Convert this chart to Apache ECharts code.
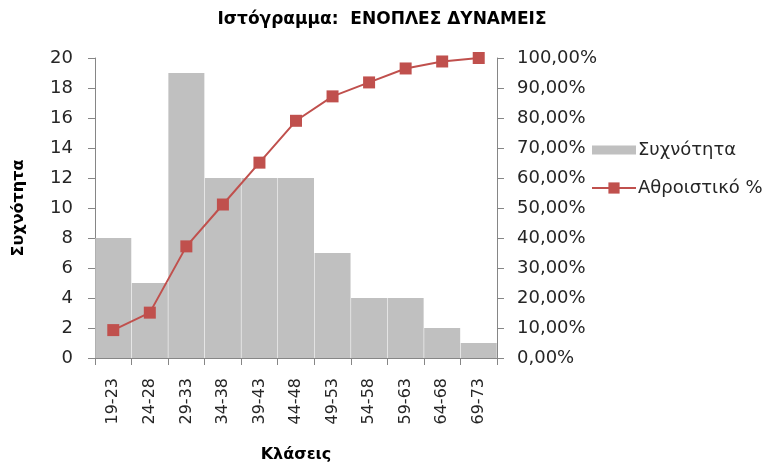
<!DOCTYPE html>
<html>
<head>
<meta charset="utf-8">
<script src="https://cdn.jsdelivr.net/npm/echarts@6/dist/echarts.min.js"></script>
<style>
  html, body { margin: 0; padding: 0; background: #fff; }
  #chart { width: 767px; height: 468px; }
</style>
</head>
<body>
<div id="chart"></div>
<script>
const classes = ["19-23", "24-28", "29-33", "34-38", "39-43", "44-48", "49-53", "54-58", "59-63", "64-68", "69-73"];
const frequency = [8, 5, 19, 12, 12, 12, 7, 4, 4, 2, 1];
const cumulativePct = [9.3, 15.12, 37.21, 51.16, 65.12, 79.07, 87.21, 91.86, 96.51, 98.84, 100];

const font = "'DejaVu Sans', sans-serif";
const pctFormat = (v) => v.toFixed(2).replace(".", ",") + "%";

const chart = echarts.init(document.getElementById("chart"));

chart.setOption({
  animation: false,
  textStyle: { fontFamily: font },
  title: {
    text: "Ιστόγραμμα:  ΕΝΟΠΛΕΣ ΔΥΝΑΜΕΙΣ",
    left: 382,
    textAlign: "center",
    top: 11,
    padding: 0,
    textStyle: { fontSize: 17, fontWeight: "bold", color: "#000", fontFamily: font },
  },
  legend: {
    orient: "vertical",
    left: 591,
    top: 141,
    padding: 0,
    itemGap: 20,
    itemWidth: 44,
    itemHeight: 14,
    textStyle: { fontSize: 18, color: "#262626", fontFamily: font, padding: [0, 0, 0, -3] },
    data: [
      { name: "Συχνότητα", icon: "path://M0,3H44V12H0Z" },
      { name: "Αθροιστικό %" },
    ],
  },
  grid: { left: 95, right: 270, top: 58, bottom: 105 },
  xAxis: {
    type: "category",
    data: classes,
    name: "Κλάσεις",
    nameLocation: "middle",
    nameGap: 89,
    nameTextStyle: { fontSize: 16, fontWeight: "bold", color: "#000" },
    axisLine: { lineStyle: { color: "#868686" } },
    axisTick: { show: true, length: 7, lineStyle: { color: "#868686" } },
    axisLabel: { rotate: 90, fontSize: 16, color: "#262626", margin: 20 },
  },
  yAxis: [
    {
      type: "value",
      min: 0,
      max: 20,
      interval: 2,
      name: "Συχνότητα",
      nameLocation: "middle",
      nameGap: 68,
      nameTextStyle: { fontSize: 16, fontWeight: "bold", color: "#000" },
      axisLine: { show: true, lineStyle: { color: "#868686" } },
      axisTick: { show: true, length: 7, lineStyle: { color: "#868686" } },
      axisLabel: { fontSize: 18, color: "#262626", margin: 22 },
      splitLine: { show: false },
    },
    {
      type: "value",
      min: 0,
      max: 100,
      interval: 10,
      position: "right",
      axisLine: { show: true, lineStyle: { color: "#868686" } },
      axisTick: { show: true, length: 7, lineStyle: { color: "#868686" } },
      axisLabel: { fontSize: 18, color: "#262626", margin: 20, formatter: pctFormat },
      splitLine: { show: false },
    },
  ],
  series: [
    {
      name: "Συχνότητα",
      type: "bar",
      data: frequency,
      barCategoryGap: "1.5%",
      itemStyle: { color: "#c0c0c0" },
    },
    {
      name: "Αθροιστικό %",
      type: "line",
      yAxisIndex: 1,
      data: cumulativePct,
      symbol: "rect",
      symbolSize: 12,
      lineStyle: { color: "#c0504d", width: 2 },
      itemStyle: { color: "#c0504d" },
    },
  ],
});
</script>
</body>
</html>
